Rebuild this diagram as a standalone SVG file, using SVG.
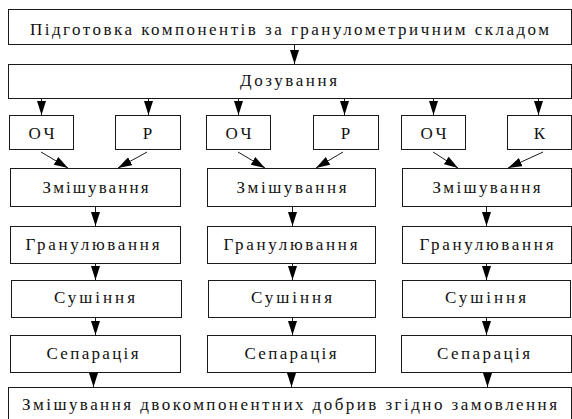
<svg xmlns="http://www.w3.org/2000/svg" width="572" height="419" viewBox="0 0 572 419" font-family="Liberation Serif, serif" font-size="17">
<style>
rect{fill:#fff;stroke:#1a1a1a;stroke-width:1}
.t{font-family:'Liberation Serif',serif;font-size:17px;fill:#111;text-anchor:middle}
.c{stroke:#1a1a1a;stroke-width:1;fill:none;marker-end:url(#ah)}
</style>
<defs>
<marker id="ah" markerUnits="userSpaceOnUse" markerWidth="14" markerHeight="9" refX="14" refY="4.5" orient="auto">
<path d="M0,0 L14,4.5 L0,9 z" fill="#000"/>
</marker>
</defs>
<rect x="0" y="0" width="572" height="419" style="stroke:none"/>
<g id="top"><rect x="8.5" y="9.5" width="563" height="35"/><text class="t" x="289.5" y="35" textLength="519" lengthAdjust="spacing">Підготовка компонентів за гранулометричним складом</text></g>
<g id="dozuvannia"><rect x="8.5" y="64.5" width="563" height="34"/><text class="t" x="288.5" y="86" textLength="97" lengthAdjust="spacing">Дозування</text></g>
<g id="och1"><rect x="9.5" y="115.5" width="64" height="34"/><text class="t" x="41.5" y="139" textLength="26" lengthAdjust="spacing">ОЧ</text></g>
<g id="r1"><rect x="115.5" y="115.5" width="65" height="34"/><text class="t" x="147.5" y="139">Р</text></g>
<g id="och2"><rect x="206.5" y="115.5" width="64" height="34"/><text class="t" x="238.5" y="139" textLength="26" lengthAdjust="spacing">ОЧ</text></g>
<g id="r2"><rect x="313.5" y="115.5" width="65" height="34"/><text class="t" x="345.5" y="139">Р</text></g>
<g id="och3"><rect x="401.5" y="115.5" width="64" height="34"/><text class="t" x="433.5" y="139" textLength="26" lengthAdjust="spacing">ОЧ</text></g>
<g id="k"><rect x="507.5" y="115.5" width="64" height="34"/><text class="t" x="539.5" y="139">К</text></g>
<g id="mix1"><rect x="10.5" y="168.5" width="170" height="38"/><text class="t" x="95.5" y="193" textLength="106" lengthAdjust="spacing">Змішування</text></g>
<g id="mix2"><rect x="207.5" y="168.5" width="168" height="38"/><text class="t" x="291.5" y="193" textLength="110" lengthAdjust="spacing">Змішування</text></g>
<g id="mix3"><rect x="402.5" y="168.5" width="169" height="38"/><text class="t" x="486.5" y="193" textLength="108" lengthAdjust="spacing">Змішування</text></g>
<g id="gran1"><rect x="10.5" y="226.5" width="170" height="37"/><text class="t" x="92.5" y="250" textLength="134" lengthAdjust="spacing">Гранулювання</text></g>
<g id="gran2"><rect x="207.5" y="226.5" width="168" height="37"/><text class="t" x="290.5" y="250" textLength="134" lengthAdjust="spacing">Гранулювання</text></g>
<g id="gran3"><rect x="402.5" y="226.5" width="169" height="37"/><text class="t" x="486.5" y="250" textLength="134" lengthAdjust="spacing">Гранулювання</text></g>
<g id="dry1"><rect x="11.5" y="280.5" width="170" height="37"/><text class="t" x="94.5" y="303" textLength="81" lengthAdjust="spacing">Сушіння</text></g>
<g id="dry2"><rect x="208.5" y="280.5" width="167" height="37"/><text class="t" x="291.5" y="303" textLength="81" lengthAdjust="spacing">Сушіння</text></g>
<g id="dry3"><rect x="402.5" y="280.5" width="168" height="37"/><text class="t" x="485.5" y="303" textLength="81" lengthAdjust="spacing">Сушіння</text></g>
<g id="sep1"><rect x="10.5" y="335.5" width="170" height="37"/><text class="t" x="92.5" y="359" textLength="92" lengthAdjust="spacing">Сепарація</text></g>
<g id="sep2"><rect x="207.5" y="335.5" width="168" height="37"/><text class="t" x="290.5" y="359" textLength="92" lengthAdjust="spacing">Сепарація</text></g>
<g id="sep3"><rect x="401.5" y="335.5" width="170" height="37"/><text class="t" x="483.5" y="359" textLength="93" lengthAdjust="spacing">Сепарація</text></g>
<g id="final"><rect x="8.5" y="387.5" width="563" height="40"/><text class="t" x="289.5" y="410" textLength="535" lengthAdjust="spacing">Змішування двокомпонентних добрив згідно замовлення</text></g>
<g id="connectors">
<line class="c" x1="294.5" y1="44" x2="294.5" y2="64"/>
<line class="c" x1="41.5" y1="98" x2="41.5" y2="115"/>
<line class="c" x1="148.5" y1="98" x2="148.5" y2="115"/>
<line class="c" x1="238.5" y1="98" x2="238.5" y2="115"/>
<line class="c" x1="344.5" y1="98" x2="344.5" y2="115"/>
<line class="c" x1="433.5" y1="98" x2="433.5" y2="115"/>
<line class="c" x1="538.5" y1="98" x2="538.5" y2="115"/>
<line class="c" x1="41" y1="152" x2="68" y2="168"/>
<line class="c" x1="147" y1="152" x2="118" y2="168"/>
<line class="c" x1="238" y1="152" x2="265" y2="168"/>
<line class="c" x1="343" y1="152" x2="316" y2="168"/>
<line class="c" x1="433" y1="152" x2="458" y2="168"/>
<line class="c" x1="543" y1="152" x2="508" y2="168"/>
<line class="c" x1="95.5" y1="206" x2="95.5" y2="226"/>
<line class="c" x1="292.5" y1="206" x2="292.5" y2="226"/>
<line class="c" x1="486.5" y1="206" x2="486.5" y2="226"/>
<line class="c" x1="95.5" y1="263" x2="95.5" y2="280"/>
<line class="c" x1="292.5" y1="263" x2="292.5" y2="280"/>
<line class="c" x1="486.5" y1="263" x2="486.5" y2="280"/>
<line class="c" x1="95.5" y1="317" x2="95.5" y2="335"/>
<line class="c" x1="292.5" y1="317" x2="292.5" y2="335"/>
<line class="c" x1="486.5" y1="317" x2="486.5" y2="335"/>
<line class="c" x1="93.5" y1="372" x2="93.5" y2="387"/>
<line class="c" x1="291.5" y1="372" x2="291.5" y2="387"/>
<line class="c" x1="487.5" y1="372" x2="487.5" y2="387"/>
</g>
</svg>
